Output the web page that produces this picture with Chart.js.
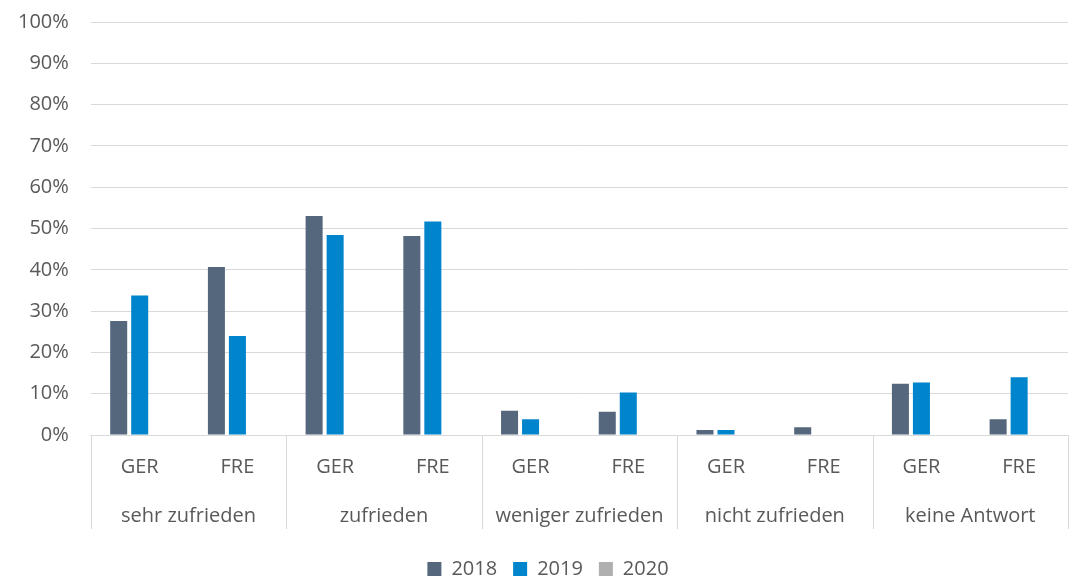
<!DOCTYPE html>
<html>
<head>
<meta charset="utf-8">
<script src="https://cdn.jsdelivr.net/npm/chart.js@4"></script>
<style>
  html, body { margin: 0; padding: 0; background: #fff; }
  #wrap { width: 1076px; height: 583px; }
</style>
</head>
<body>
<div id="wrap"><canvas id="bar_chart_satisfaction"></canvas></div>
<script>
var countries = ["GER", "FRE", "GER", "FRE", "GER", "FRE", "GER", "FRE", "GER", "FRE"];
var groups = ["sehr zufrieden", "zufrieden", "weniger zufrieden", "nicht zufrieden", "keine Antwort"];
var values_2018 = [27.6, 40.7, 53.0, 48.2, 5.9, 5.6, 1.2, 1.9, 12.4, 3.8];
var values_2019 = [33.8, 24.0, 48.4, 51.7, 3.8, 10.3, 1.2, 0, 12.7, 14.0];
var values_2020 = [null, null, null, null, null, null, null, null, null, null];
var y_ticks = [0, 10, 20, 30, 40, 50, 60, 70, 80, 90, 100];

var grid_colour = "#d9d9d9";
var text_colour = "#595959";

// separators between the groups, drawn below the plot area
var group_lines = {
  id: "group_lines",
  afterLayout: function (chart) {
    // legend sits a bit right of the centre in the original
    chart.legend.left += 16;
    chart.legend.right += 16;
  },
  afterDraw: function (chart) {
    var x = chart.scales.x;
    var x2 = chart.scales.x2;
    var ctx = chart.ctx;
    var step = (x.right - x.left) / groups.length;
    ctx.save();
    ctx.strokeStyle = grid_colour;
    ctx.lineWidth = 1;
    for (var i = 0; i <= groups.length; i++) {
      var px = Math.round(x.left + i * step) + 0.5;
      ctx.beginPath();
      ctx.moveTo(px, x.top);
      ctx.lineTo(px, x2.bottom - 14);
      ctx.stroke();
    }
    ctx.restore();
  }
};

var ctx = document.getElementById("bar_chart_satisfaction");

var myChart = new Chart(ctx, {
  type: 'bar',
  plugins: [group_lines],
  data: {
    labels: countries,
    datasets: [{
      label: "2018",
      backgroundColor: "#55677d",
      data: values_2018
    }, {
      label: "2019",
      backgroundColor: "#0084cc",
      data: values_2019
    }, {
      label: "2020",
      backgroundColor: "#afafaf",
      data: values_2020
    }]
  },
  options: {
    responsive: true,
    maintainAspectRatio: false,
    animation: false,
    layout: {
      padding: { left: -4, right: 8, top: 22, bottom: -6 }
    },
    datasets: {
      bar: {
        categoryPercentage: 0.645,
        barPercentage: 0.81
      }
    },
    scales: {
      x: {
        position: 'bottom',
        grid: { display: false },
        border: { display: true, color: grid_colour },
        ticks: {
          color: text_colour,
          padding: 12,
          maxRotation: 0,
          font: { family: "Open Sans", size: 20 }
        }
      },
      x2: {
        position: 'bottom',
        type: 'category',
        labels: groups,
        offset: true,
        afterFit: function (axis) {
          axis.height += 10;
        },
        grid: { display: false },
        border: { display: false },
        ticks: {
          color: text_colour,
          padding: 5,
          maxRotation: 0,
          font: { family: "Open Sans", size: 20 }
        }
      },
      y: {
        min: 0,
        max: 100,
        afterBuildTicks: function (axis) {
          axis.ticks = y_ticks.map(function (v) { return { value: v }; });
        },
        // the tick padding would otherwise push the plot down
        afterFit: function (axis) {
          axis.paddingTop = 0;
          axis.paddingBottom = 0;
        },
        grid: { color: grid_colour, drawTicks: false },
        border: { display: false },
        ticks: {
          color: text_colour,
          padding: 22,
          font: { family: "Open Sans", size: 20 },
          callback: function (v) { return v + "%"; }
        }
      }
    },
    plugins: {
      title: { display: false },
      tooltip: { enabled: false },
      legend: {
        position: 'bottom',
        labels: {
          boxWidth: 14,
          boxHeight: 14,
          padding: 16,
          color: text_colour,
          font: { family: "Open Sans", size: 20 }
        }
      }
    }
  }
});
</script>
</body>
</html>
